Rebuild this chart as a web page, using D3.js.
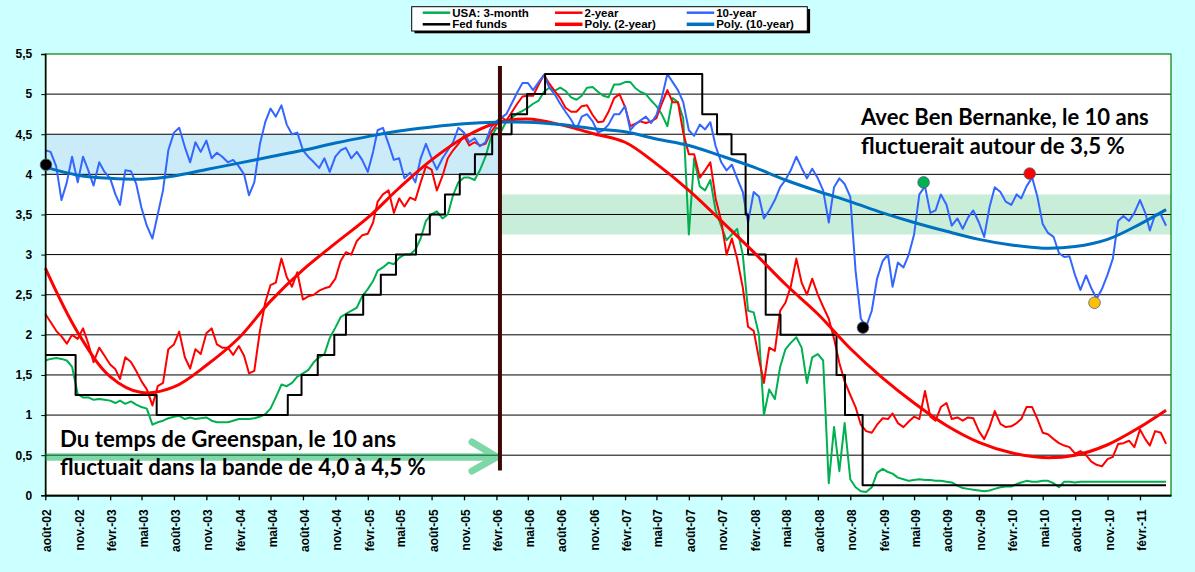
<!DOCTYPE html>
<meta charset="utf-8">
<style>
    body { margin: 0; background: #ccffff; }
    svg { display: block; }
    text { font-family: "Liberation Sans", Arial, sans-serif; font-weight: bold; }
    .note { font-family: Lato, "Open Sans", sans-serif; font-weight: bold; fill: #000; }
</style>
<body>
<svg width="1195" height="572"></svg>
<script src="https://cdn.jsdelivr.net/npm/d3@7/dist/d3.min.js"></script>
<script>
    // half-monthly readings (1st and 16th of each month), août 2002 -> mi-avril 2011
    var startMonth = new Date(2002, 7, 1)
    var endAxis = new Date(2011, 3, 30)
    var dates = d3.range(210).map(function(k) {
        var d = d3.timeMonth.offset(startMonth, Math.floor(k / 2))
        return k % 2 ? d3.timeDay.offset(d, 15) : d
    })

    var tenYear = [
        4.30,4.28,4.10,3.68,3.90,4.22,3.90,4.22,4.05,3.86,
        4.15,4.03,3.95,3.75,3.62,4.05,4.04,3.88,3.58,3.36,
        3.20,3.50,3.80,4.30,4.52,4.58,4.34,4.15,4.40,4.28,
        4.42,4.20,4.27,4.22,4.15,4.18,4.10,4.00,3.74,3.90,
        4.38,4.65,4.82,4.72,4.86,4.62,4.50,4.52,4.30,4.22,
        4.15,4.08,4.20,4.03,4.22,4.30,4.33,4.20,4.28,4.18,
        4.03,4.28,4.55,4.58,4.38,4.18,4.20,3.95,4.02,3.90,
        4.20,4.38,4.20,4.06,4.20,4.30,4.40,4.58,4.52,4.40,
        4.45,4.35,4.40,4.58,4.66,4.71,4.75,4.88,5.02,5.14,
        5.14,5.05,5.15,5.24,5.08,5.00,4.88,4.78,4.68,4.56,
        4.72,4.75,4.66,4.52,4.55,4.62,4.75,4.75,4.85,4.55,
        4.62,4.67,4.72,4.64,4.74,4.95,5.25,5.15,5.05,4.90,
        4.55,4.48,4.62,4.56,4.65,4.35,4.15,4.05,4.12,3.95,
        3.78,3.40,3.78,3.72,3.45,3.55,3.68,3.84,3.93,4.05,
        4.22,4.08,3.95,4.07,3.95,3.80,3.40,3.84,3.95,3.88,
        3.72,2.80,2.20,2.10,2.30,2.70,2.92,3.00,2.60,2.90,
        2.84,3.00,3.25,3.75,3.85,3.52,3.55,3.75,3.62,3.36,
        3.45,3.32,3.46,3.55,3.40,3.22,3.59,3.84,3.78,3.66,
        3.62,3.75,3.70,3.85,3.96,3.72,3.38,3.27,3.22,3.02,
        2.97,2.98,2.74,2.56,2.74,2.58,2.45,2.57,2.75,2.95,
        3.42,3.48,3.42,3.52,3.68,3.52,3.30,3.50,3.50,3.36
    ]
    var twoYear = [
        2.26,2.16,2.05,1.98,1.89,2.00,1.95,2.08,1.89,1.66,
        1.84,1.74,1.63,1.57,1.45,1.72,1.66,1.55,1.42,1.32,
        1.12,1.36,1.40,1.82,1.88,2.04,1.72,1.58,1.82,1.76,
        2.02,2.08,1.88,1.84,1.84,1.75,1.86,1.74,1.52,1.55,
        2.05,2.40,2.62,2.65,2.95,2.72,2.60,2.78,2.44,2.48,
        2.50,2.55,2.58,2.60,2.70,2.92,3.03,3.00,3.17,3.24,
        3.26,3.40,3.66,3.75,3.80,3.52,3.70,3.60,3.71,3.68,
        3.90,4.10,4.06,3.80,3.98,4.20,4.30,4.38,4.48,4.36,
        4.40,4.36,4.38,4.52,4.62,4.71,4.67,4.77,4.88,4.97,
        4.98,4.98,5.12,5.24,5.13,5.04,4.95,4.83,4.78,4.78,
        4.85,4.86,4.74,4.65,4.66,4.78,4.95,5.00,4.84,4.60,
        4.63,4.66,4.64,4.66,4.70,4.88,5.05,4.90,4.90,4.52,
        4.25,4.25,3.96,4.05,4.15,3.70,3.42,3.00,3.20,2.95,
        2.59,2.10,2.05,1.70,1.40,1.84,1.80,2.30,2.40,2.60,
        2.95,2.65,2.50,2.70,2.50,2.35,2.20,1.95,1.65,1.42,
        1.25,1.10,0.88,0.80,0.78,0.88,0.96,0.95,1.02,0.90,
        0.85,0.92,0.98,0.95,1.30,0.98,0.93,1.10,1.15,0.95,
        0.97,0.93,0.97,0.96,0.80,0.70,0.85,1.05,0.89,0.85,
        0.86,0.90,0.95,1.10,1.10,0.95,0.78,0.76,0.70,0.65,
        0.62,0.60,0.52,0.55,0.50,0.42,0.38,0.36,0.45,0.48,
        0.64,0.65,0.68,0.60,0.82,0.70,0.62,0.80,0.78,0.64
    ]
    var threeMonth = [
        1.68,1.70,1.71,1.70,1.68,1.60,1.26,1.22,1.22,1.19,
        1.20,1.19,1.18,1.15,1.18,1.14,1.17,1.13,1.10,1.08,
        0.88,0.91,0.93,0.96,0.98,0.99,0.95,0.97,0.95,0.96,
        0.97,0.93,0.91,0.91,0.91,0.93,0.95,0.95,0.95,0.96,
        0.98,1.01,1.08,1.22,1.38,1.36,1.40,1.48,1.52,1.56,
        1.66,1.72,1.76,1.96,2.09,2.22,2.26,2.30,2.34,2.48,
        2.57,2.67,2.80,2.84,2.90,2.88,2.96,3.00,3.00,3.06,
        3.20,3.42,3.50,3.54,3.45,3.50,3.74,3.90,3.96,3.96,
        3.93,4.05,4.22,4.45,4.58,4.55,4.66,4.70,4.76,4.79,
        4.83,4.88,4.92,5.03,5.08,5.04,5.08,5.04,4.96,4.93,
        4.98,5.08,5.09,5.03,4.98,4.96,5.12,5.12,5.15,5.15,
        5.08,5.03,5.00,4.92,4.85,4.75,4.60,4.95,4.90,4.70,
        3.25,4.20,3.85,3.80,3.93,3.55,3.35,3.18,3.25,3.32,
        3.00,2.30,2.28,2.00,1.00,1.32,1.20,1.60,1.82,1.90,
        1.97,1.84,1.40,1.72,1.76,1.68,0.15,0.85,0.30,0.90,
        0.20,0.10,0.05,0.04,0.10,0.28,0.33,0.29,0.27,0.22,
        0.20,0.18,0.19,0.20,0.19,0.19,0.18,0.18,0.17,0.16,
        0.12,0.09,0.08,0.07,0.06,0.05,0.06,0.08,0.10,0.11,
        0.11,0.14,0.16,0.18,0.17,0.17,0.18,0.18,0.15,0.10,
        0.17,0.17,0.16,0.17,0.17,0.17,0.17,0.17,0.17,0.17,
        0.17,0.17,0.17,0.17,0.17,0.17,0.17,0.17,0.17,0.17
    ]

    // Fed funds target: date of each change and new level
    var fedDates = ["2002-08-01","2002-10-26","2003-06-13","2004-06-19","2004-07-28","2004-09-12",
        "2004-10-29","2004-12-01","2005-01-19","2005-03-10","2005-04-22","2005-06-18","2005-07-27",
        "2005-09-08","2005-10-20","2005-12-02","2006-01-20","2006-03-16","2006-04-29","2006-06-19",
        "2007-09-08","2007-10-20","2007-11-30","2008-01-09","2008-01-16","2008-03-06","2008-04-17",
        "2008-09-23","2008-10-17","2008-12-06","2011-04-16"]
    var fedRates = [1.75,1.25,1.00,1.25,1.50,1.75,2.00,2.25,2.50,2.75,3.00,3.25,3.50,3.75,4.00,4.25,
        4.50,4.75,5.00,5.25,4.75,4.50,4.25,3.50,3.00,2.25,2.00,1.50,1.00,0.125,0.125]

    // polynomial trendlines read every quarter
    var trendDates = ["2002-08-01","2002-11-01","2003-02-01","2003-05-01","2003-08-01","2003-11-01",
        "2004-02-01","2004-05-01","2004-08-01","2004-11-01","2005-02-01","2005-05-01","2005-08-01",
        "2005-11-01","2006-02-01","2006-05-01","2006-08-01","2006-11-01","2007-02-01","2007-05-01",
        "2007-08-01","2007-11-01","2008-02-01","2008-05-01","2008-08-01","2008-11-01","2009-02-01",
        "2009-05-01","2009-08-01","2009-11-01","2010-02-01","2010-05-01","2010-08-01","2010-11-01",
        "2011-02-01","2011-04-16"]
    var poly10 = [4.09,3.99,3.95,3.94,3.98,4.06,4.14,4.22,4.30,4.39,4.47,4.54,4.59,4.63,4.65,4.65,
        4.62,4.57,4.53,4.44,4.36,4.23,4.09,3.93,3.79,3.66,3.52,3.40,3.29,3.19,3.12,3.08,3.10,3.19,3.38,3.56]
    var poly2 = [2.83,2.03,1.48,1.28,1.35,1.62,1.96,2.42,2.81,3.14,3.46,3.83,4.18,4.46,4.64,4.69,
        4.62,4.51,4.40,4.13,3.80,3.42,3.03,2.63,2.26,1.83,1.46,1.15,0.87,0.66,0.53,0.47,0.50,0.63,0.85,1.06]

    // highlighted 10-year points
    var markerDates = ["2002-08-03","2008-12-07","2009-05-28","2010-03-25","2010-09-25"]
    var markerValues = [4.12, 2.09, 3.90, 4.01, 2.40]
    var markerColors = ["#000000","#000000","#00b050","#ff0000","#ffc000"]

    var yTicks = d3.range(0, 5.51, 0.5)
    var monthsFr = ["janv.","févr.","mars","avr.","mai","juin","juil.","août","sept.","oct.","nov.","déc."]
    var bernankeDate = "2006-02-11"

    var parse = d3.timeParse("%Y-%m-%d")
    var fmt = d3.formatLocale({decimal: ",", thousands: " ", grouping: [3], currency: ["", ""]}).format("~g")

    var plotL = 45.3, plotR = 1171, plotT = 54, plotB = 495.3
    var x = d3.scaleTime().domain([startMonth, endAxis]).range([plotL, plotR])
    var y = d3.scaleLinear().domain([0, 5.5]).range([plotB, plotT])

    var svg = d3.select("svg")

    svg.append("rect")
        .attr("x", plotL).attr("y", plotT)
        .attr("width", plotR - plotL).attr("height", plotB - plotT)
        .attr("fill", "#ffffff")

    var bDate = parse(bernankeDate)
    // bands
    svg.append("rect")
        .attr("x", x(startMonth)).attr("y", y(4.5))
        .attr("width", x(bDate) - x(startMonth)).attr("height", y(4.0) - y(4.5))
        .attr("fill", "#cbebf8")
    svg.append("rect")
        .attr("x", x(bDate)).attr("y", y(3.75))
        .attr("width", plotR - x(bDate)).attr("height", y(3.25) - y(3.75))
        .attr("fill", "#c8eed9")

    // grid
    svg.append("g").selectAll("line")
        .data(yTicks.filter(function(v) { return v > 0 && v < 5.5 }))
        .enter().append("line")
        .attr("x1", plotL).attr("x2", plotR)
        .attr("y1", function(d) { return y(d) }).attr("y2", function(d) { return y(d) })
        .attr("stroke", "#000").attr("stroke-width", 1)

    function series(values) {
        return values.map(function(v, i) { return {date: dates[i], v: v} })
    }
    function pairs(ds, vs) {
        return ds.map(function(d, i) { return {date: parse(d), v: vs[i]} })
    }

    var line = d3.line().x(function(d) { return x(d.date) }).y(function(d) { return y(d.v) })
    var smooth = d3.line().x(function(d) { return x(d.date) }).y(function(d) { return y(d.v) })
        .curve(d3.curveCatmullRom)
    var step = d3.line().x(function(d) { return x(d.date) }).y(function(d) { return y(d.v) })
        .curve(d3.curveStepAfter)

    var plot = svg.append("g").attr("fill", "none").attr("stroke-linejoin", "round")
    plot.append("path").attr("d", line(series(threeMonth))).attr("stroke", "#00b050").attr("stroke-width", 2)
    plot.append("path").attr("d", line(series(twoYear))).attr("stroke", "#ff0000").attr("stroke-width", 2)
    plot.append("path").attr("d", line(series(tenYear))).attr("stroke", "#3366ff").attr("stroke-width", 2)
    plot.append("path").attr("d", step(pairs(fedDates, fedRates))).attr("stroke", "#000").attr("stroke-width", 2)
    plot.append("path").attr("d", smooth(pairs(trendDates, poly2))).attr("stroke", "#ff0000").attr("stroke-width", 3)
    plot.append("path").attr("d", smooth(pairs(trendDates, poly10))).attr("stroke", "#0070c0").attr("stroke-width", 3)

    // plot border (green) and axes (black)
    svg.append("rect")
        .attr("x", plotL).attr("y", plotT)
        .attr("width", plotR - plotL).attr("height", plotB - plotT)
        .attr("fill", "none").attr("stroke", "#008000").attr("stroke-width", 1.2)

    var yAxis = svg.append("g")
        .attr("transform", "translate(" + plotL + ",0)")
        .call(d3.axisLeft(y).tickValues(yTicks).tickSize(4).tickPadding(9).tickFormat(fmt))
    yAxis.select(".domain").attr("stroke", "#000").attr("stroke-width", 1.5)
    yAxis.selectAll("text").attr("font-size", 12).attr("fill", "#000")
        .style("font-family", "'Liberation Sans', Arial, sans-serif")

    var xTicks = d3.timeMonths(startMonth, endAxis).filter(function(d) { return d.getMonth() % 3 === 1 })
    var xAxis = svg.append("g")
        .attr("transform", "translate(0," + plotB + ")")
        .call(d3.axisBottom(x).tickValues(xTicks).tickSize(5).tickSizeOuter(0)
            .tickFormat(function(d) { return monthsFr[d.getMonth()] + "-" + d3.timeFormat("%y")(d) }))
    xAxis.select(".domain").attr("stroke", "#000").attr("stroke-width", 2)
    xAxis.selectAll(".tick line").attr("stroke-width", 1.3)
    xAxis.selectAll("text")
        .attr("y", null).attr("dy", null).attr("x", null)
        .attr("text-anchor", "end")
        .attr("transform", "translate(5.5,14) rotate(-90)")
        .attr("font-size", 12).attr("fill", "#000")
        .style("font-family", "'Liberation Sans', Arial, sans-serif")

    // markers
    svg.append("g").selectAll("circle")
        .data(markerDates)
        .enter().append("circle")
        .attr("cx", function(d) { return x(parse(d)) })
        .attr("cy", function(d, i) { return y(markerValues[i]) })
        .attr("r", 5.8)
        .attr("fill", function(d, i) { return markerColors[i] })
        .attr("stroke", "#4d5f80").attr("stroke-width", 0.8)

    // arrow towards Bernanke line
    var arrow = svg.append("g").attr("opacity", 0.5).attr("fill", "none")
        .attr("stroke", "#00b050").attr("stroke-linecap", "round").attr("stroke-linejoin", "round")
    var tipX = x(bDate) - 3, tipY = 457
    arrow.append("line")
        .attr("x1", plotL).attr("x2", tipX - 2)
        .attr("y1", tipY).attr("y2", tipY)
        .attr("stroke-width", 7.5).attr("stroke-linecap", "butt")
    arrow.append("path")
        .attr("d", "M" + (tipX - 25) + "," + (tipY - 15) + "L" + tipX + "," + tipY + "L" + (tipX - 25) + "," + (tipY + 14))
        .attr("stroke-width", 7)

    // Bernanke vertical line
    svg.append("line")
        .attr("x1", x(bDate)).attr("x2", x(bDate))
        .attr("y1", y(5.35)).attr("y2", y(0.31))
        .attr("stroke", "#3d0808").attr("stroke-width", 4)

    // annotations
    function note(lines, x0, baselines, widths) {
        var g = svg.append("g")
        var t = lines.map(function(s, i) {
            return g.append("text").attr("class", "note")
                .attr("x", x0).attr("y", baselines[i])
                .attr("font-size", 21).text(s)
        })
        t.forEach(function(el, i) {
            var w = el.node().getComputedTextLength()
            el.attr("font-size", 21 * widths[i] / w)
        })
    }
    note(["Avec Ben Bernanke, le 10 ans", "fluctuerait autour de 3,5 %"], 861, [125, 154], [288, 264])
    note(["Du temps de Greenspan, le 10 ans", "fluctuait dans la bande de 4,0 à 4,5 %"], 60, [446.7, 474.7], [336, 366])

    // legend
    var legendItems = [
        {name: "USA: 3-month", color: "#00b050", w: 2.5, col: 0, row: 0},
        {name: "2-year", color: "#ff0000", w: 2.5, col: 1, row: 0},
        {name: "10-year", color: "#3366ff", w: 2.5, col: 2, row: 0},
        {name: "Fed funds", color: "#000000", w: 2.5, col: 0, row: 1},
        {name: "Poly. (2-year)", color: "#ff0000", w: 3.5, col: 1, row: 1},
        {name: "Poly. (10-year)", color: "#0070c0", w: 3.5, col: 2, row: 1}
    ]
    var colX = [422.7, 555, 686.7], rowY = [12.7, 24.3]
    var lg = svg.append("g")
    lg.append("rect").attr("x", 414.5).attr("y", 9).attr("width", 395.6).attr("height", 24.3).attr("fill", "#000")
    lg.append("rect").attr("x", 411.7).attr("y", 6.7).attr("width", 395.6).attr("height", 24.3)
        .attr("fill", "#fff").attr("stroke", "#000").attr("stroke-width", 1)
    legendItems.forEach(function(it) {
        var lx = colX[it.col], ly = rowY[it.row]
        lg.append("line").attr("x1", lx).attr("x2", lx + 27.5).attr("y1", ly).attr("y2", ly)
            .attr("stroke", it.color).attr("stroke-width", it.w)
        lg.append("text").attr("x", lx + 29.5).attr("y", ly + 4.1)
            .attr("font-size", 11.5).attr("fill", "#000").text(it.name)
    })
</script>
</body>
